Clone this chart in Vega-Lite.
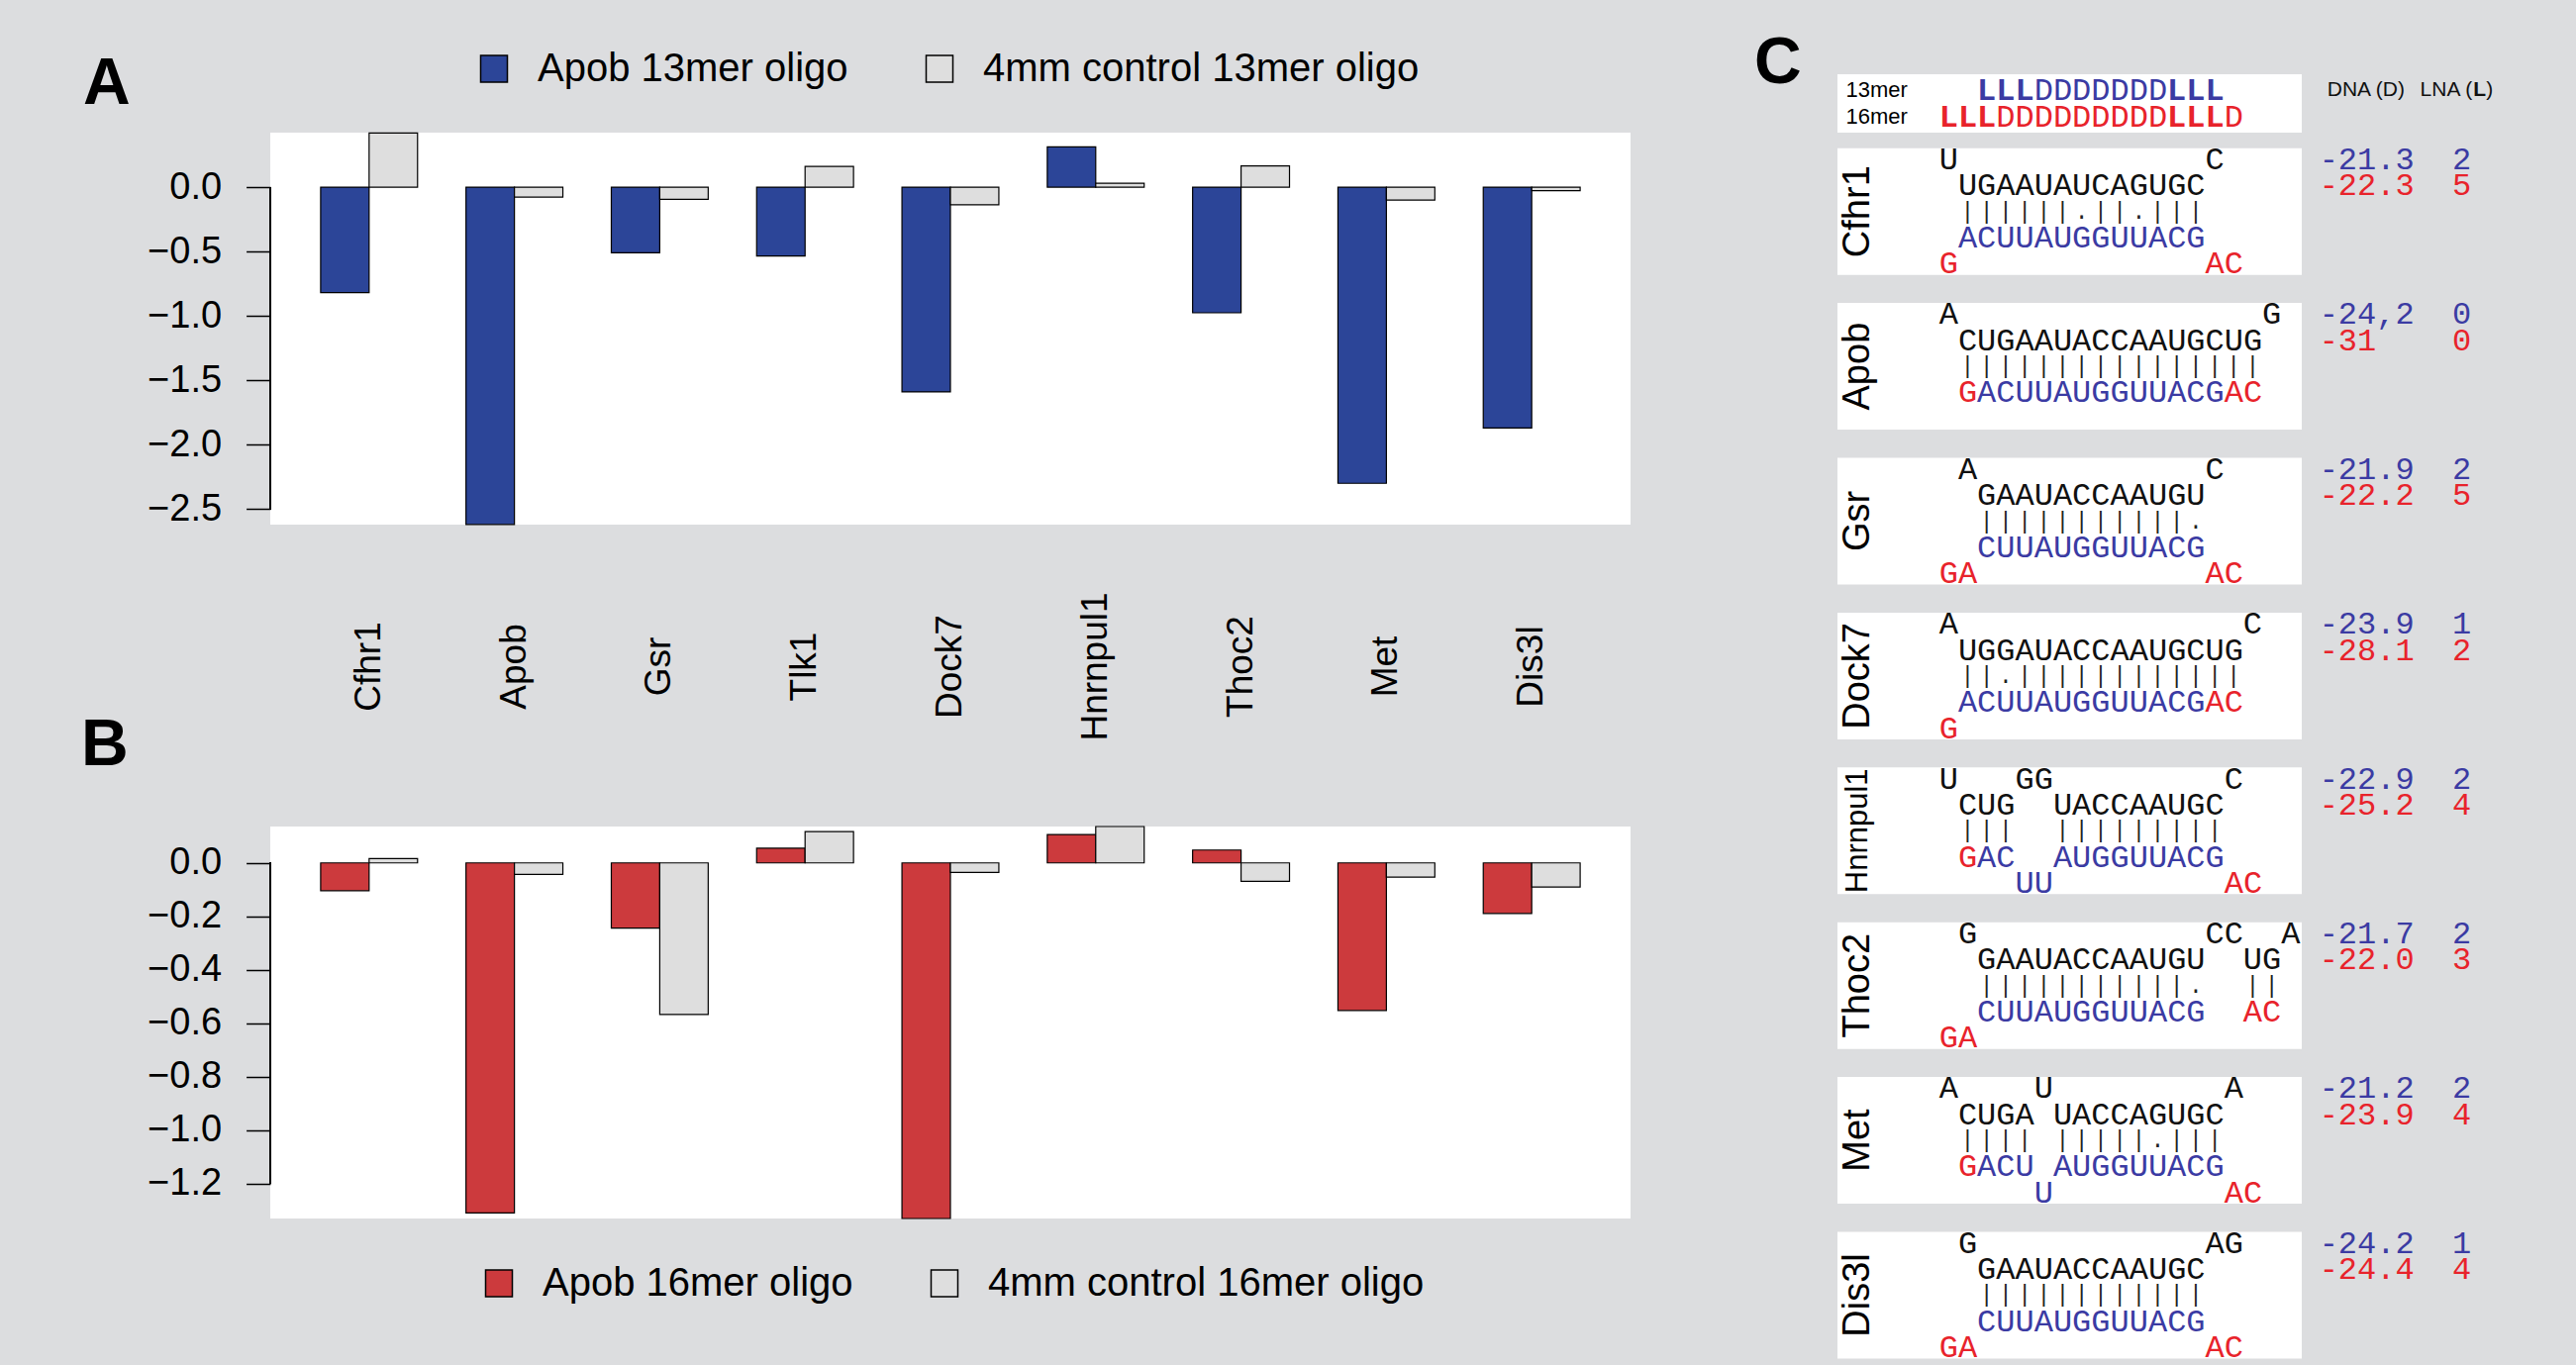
{
  "$schema": "https://vega.github.io/schema/vega-lite/v6.json",
  "autosize": {"type": "none"},
  "padding": {"left": 273, "top": 75, "right": 2329, "bottom": 1304},
  "background": "#dcdddf",
  "config": {
    "view": {"stroke": null},
    "font": "Liberation Sans",
    "axis": {"labelFont": "Liberation Sans", "labelColor": "black", "tickColor": "black", "domainColor": "black", "grid": false},
    "title": {"font": "Liberation Sans", "fontSize": 66, "fontWeight": "bold", "color": "black", "anchor": "start", "frame": "group", "orient": "top", "baseline": "alphabetic"}
  },
  "datasets": {
    "bars13": [
      {"gene": "Cfhr1", "oligo": "Apob 13mer oligo", "value": -0.82},
      {"gene": "Cfhr1", "oligo": "4mm control 13mer oligo", "value": 0.42},
      {"gene": "Apob", "oligo": "Apob 13mer oligo", "value": -2.62},
      {"gene": "Apob", "oligo": "4mm control 13mer oligo", "value": -0.077},
      {"gene": "Gsr", "oligo": "Apob 13mer oligo", "value": -0.51},
      {"gene": "Gsr", "oligo": "4mm control 13mer oligo", "value": -0.095},
      {"gene": "Tlk1", "oligo": "Apob 13mer oligo", "value": -0.535},
      {"gene": "Tlk1", "oligo": "4mm control 13mer oligo", "value": 0.16},
      {"gene": "Dock7", "oligo": "Apob 13mer oligo", "value": -1.59},
      {"gene": "Dock7", "oligo": "4mm control 13mer oligo", "value": -0.137},
      {"gene": "Hnrnpul1", "oligo": "Apob 13mer oligo", "value": 0.313},
      {"gene": "Hnrnpul1", "oligo": "4mm control 13mer oligo", "value": 0.03},
      {"gene": "Thoc2", "oligo": "Apob 13mer oligo", "value": -0.976},
      {"gene": "Thoc2", "oligo": "4mm control 13mer oligo", "value": 0.164},
      {"gene": "Met", "oligo": "Apob 13mer oligo", "value": -2.3},
      {"gene": "Met", "oligo": "4mm control 13mer oligo", "value": -0.1},
      {"gene": "Dis3l", "oligo": "Apob 13mer oligo", "value": -1.87},
      {"gene": "Dis3l", "oligo": "4mm control 13mer oligo", "value": -0.028}
    ],
    "bars16": [
      {"gene": "Cfhr1", "oligo": "Apob 16mer oligo", "value": -0.104},
      {"gene": "Cfhr1", "oligo": "4mm control 16mer oligo", "value": 0.016},
      {"gene": "Apob", "oligo": "Apob 16mer oligo", "value": -1.309},
      {"gene": "Apob", "oligo": "4mm control 16mer oligo", "value": -0.043},
      {"gene": "Gsr", "oligo": "Apob 16mer oligo", "value": -0.244},
      {"gene": "Gsr", "oligo": "4mm control 16mer oligo", "value": -0.567},
      {"gene": "Tlk1", "oligo": "Apob 16mer oligo", "value": 0.055},
      {"gene": "Tlk1", "oligo": "4mm control 16mer oligo", "value": 0.117},
      {"gene": "Dock7", "oligo": "Apob 16mer oligo", "value": -1.33},
      {"gene": "Dock7", "oligo": "4mm control 16mer oligo", "value": -0.036},
      {"gene": "Hnrnpul1", "oligo": "Apob 16mer oligo", "value": 0.106},
      {"gene": "Hnrnpul1", "oligo": "4mm control 16mer oligo", "value": 0.136},
      {"gene": "Thoc2", "oligo": "Apob 16mer oligo", "value": 0.048},
      {"gene": "Thoc2", "oligo": "4mm control 16mer oligo", "value": -0.069},
      {"gene": "Met", "oligo": "Apob 16mer oligo", "value": -0.552},
      {"gene": "Met", "oligo": "4mm control 16mer oligo", "value": -0.053},
      {"gene": "Dis3l", "oligo": "Apob 16mer oligo", "value": -0.189},
      {"gene": "Dis3l", "oligo": "4mm control 16mer oligo", "value": -0.09}
    ],
    "hdr": [
      {"line": "13mer", "col": 2, "seq": "LLL", "chem": "LNA", "strand": "13mer"},
      {"line": "13mer", "col": 5, "seq": "DDDDDDD", "chem": "DNA", "strand": "13mer"},
      {"line": "13mer", "col": 12, "seq": "LLL", "chem": "LNA", "strand": "13mer"},
      {"line": "16mer", "col": 0, "seq": "LLL", "chem": "LNA", "strand": "16mer"},
      {"line": "16mer", "col": 3, "seq": "DDDDDDDDD", "chem": "DNA", "strand": "16mer"},
      {"line": "16mer", "col": 12, "seq": "LLL", "chem": "LNA", "strand": "16mer"},
      {"line": "16mer", "col": 15, "seq": "D", "chem": "DNA", "strand": "16mer"},
      {"line": "13mer", "col": 20.42, "seq": "DNA (D)", "chem": "label", "strand": "target"},
      {"line": "13mer", "col": 25.31, "seq": "LNA (", "chem": "label", "strand": "target"},
      {"line": "13mer", "col": 28.11, "seq": "L", "chem": "labelbold", "strand": "target"},
      {"line": "13mer", "col": 28.78, "seq": ")", "chem": "label", "strand": "target"}
    ],
    "boxes": [
      {"gene": "Cfhr1"}, {"gene": "Apob"}, {"gene": "Gsr"}, {"gene": "Dock7"},
      {"gene": "Hnrnpul1"}, {"gene": "Thoc2"}, {"gene": "Met"}, {"gene": "Dis3l"}
    ],
    "aln": [
      {"gene": "Cfhr1", "line": 0, "col": 0, "seq": "U", "strand": "target"},
      {"gene": "Cfhr1", "line": 0, "col": 14, "seq": "C", "strand": "target"},
      {"gene": "Cfhr1", "line": 1, "col": 1, "seq": "UGAAUAUCAGUGC", "strand": "target"},
      {"gene": "Cfhr1", "line": 3, "col": 1, "seq": "ACUUAUGGUUACG", "strand": "13mer"},
      {"gene": "Cfhr1", "line": 4, "col": 0, "seq": "G", "strand": "16mer"},
      {"gene": "Cfhr1", "line": 4, "col": 14, "seq": "AC", "strand": "16mer"},
      {"gene": "Cfhr1", "line": 0, "col": 20, "seq": "-21.3", "strand": "13mer"},
      {"gene": "Cfhr1", "line": 0, "col": 27, "seq": "2", "strand": "13mer"},
      {"gene": "Cfhr1", "line": 1, "col": 20, "seq": "-22.3", "strand": "16mer"},
      {"gene": "Cfhr1", "line": 1, "col": 27, "seq": "5", "strand": "16mer"},

      {"gene": "Apob", "line": 0, "col": 0, "seq": "A", "strand": "target"},
      {"gene": "Apob", "line": 0, "col": 17, "seq": "G", "strand": "target"},
      {"gene": "Apob", "line": 1, "col": 1, "seq": "CUGAAUACCAAUGCUG", "strand": "target"},
      {"gene": "Apob", "line": 3, "col": 1, "seq": "G", "strand": "16mer"},
      {"gene": "Apob", "line": 3, "col": 2, "seq": "ACUUAUGGUUACG", "strand": "13mer"},
      {"gene": "Apob", "line": 3, "col": 15, "seq": "AC", "strand": "16mer"},
      {"gene": "Apob", "line": 0, "col": 20, "seq": "-24,2", "strand": "13mer"},
      {"gene": "Apob", "line": 0, "col": 27, "seq": "0", "strand": "13mer"},
      {"gene": "Apob", "line": 1, "col": 20, "seq": "-31", "strand": "16mer"},
      {"gene": "Apob", "line": 1, "col": 27, "seq": "0", "strand": "16mer"},

      {"gene": "Gsr", "line": 0, "col": 1, "seq": "A", "strand": "target"},
      {"gene": "Gsr", "line": 0, "col": 14, "seq": "C", "strand": "target"},
      {"gene": "Gsr", "line": 1, "col": 2, "seq": "GAAUACCAAUGU", "strand": "target"},
      {"gene": "Gsr", "line": 3, "col": 2, "seq": "CUUAUGGUUACG", "strand": "13mer"},
      {"gene": "Gsr", "line": 4, "col": 0, "seq": "GA", "strand": "16mer"},
      {"gene": "Gsr", "line": 4, "col": 14, "seq": "AC", "strand": "16mer"},
      {"gene": "Gsr", "line": 0, "col": 20, "seq": "-21.9", "strand": "13mer"},
      {"gene": "Gsr", "line": 0, "col": 27, "seq": "2", "strand": "13mer"},
      {"gene": "Gsr", "line": 1, "col": 20, "seq": "-22.2", "strand": "16mer"},
      {"gene": "Gsr", "line": 1, "col": 27, "seq": "5", "strand": "16mer"},

      {"gene": "Dock7", "line": 0, "col": 0, "seq": "A", "strand": "target"},
      {"gene": "Dock7", "line": 0, "col": 16, "seq": "C", "strand": "target"},
      {"gene": "Dock7", "line": 1, "col": 1, "seq": "UGGAUACCAAUGCUG", "strand": "target"},
      {"gene": "Dock7", "line": 3, "col": 1, "seq": "ACUUAUGGUUACG", "strand": "13mer"},
      {"gene": "Dock7", "line": 3, "col": 14, "seq": "AC", "strand": "16mer"},
      {"gene": "Dock7", "line": 4, "col": 0, "seq": "G", "strand": "16mer"},
      {"gene": "Dock7", "line": 0, "col": 20, "seq": "-23.9", "strand": "13mer"},
      {"gene": "Dock7", "line": 0, "col": 27, "seq": "1", "strand": "13mer"},
      {"gene": "Dock7", "line": 1, "col": 20, "seq": "-28.1", "strand": "16mer"},
      {"gene": "Dock7", "line": 1, "col": 27, "seq": "2", "strand": "16mer"},

      {"gene": "Hnrnpul1", "line": 0, "col": 0, "seq": "U", "strand": "target"},
      {"gene": "Hnrnpul1", "line": 0, "col": 4, "seq": "GG", "strand": "target"},
      {"gene": "Hnrnpul1", "line": 0, "col": 15, "seq": "C", "strand": "target"},
      {"gene": "Hnrnpul1", "line": 1, "col": 1, "seq": "CUG", "strand": "target"},
      {"gene": "Hnrnpul1", "line": 1, "col": 6, "seq": "UACCAAUGC", "strand": "target"},
      {"gene": "Hnrnpul1", "line": 3, "col": 1, "seq": "G", "strand": "16mer"},
      {"gene": "Hnrnpul1", "line": 3, "col": 2, "seq": "AC", "strand": "13mer"},
      {"gene": "Hnrnpul1", "line": 3, "col": 6, "seq": "AUGGUUACG", "strand": "13mer"},
      {"gene": "Hnrnpul1", "line": 4, "col": 4, "seq": "UU", "strand": "13mer"},
      {"gene": "Hnrnpul1", "line": 4, "col": 15, "seq": "AC", "strand": "16mer"},
      {"gene": "Hnrnpul1", "line": 0, "col": 20, "seq": "-22.9", "strand": "13mer"},
      {"gene": "Hnrnpul1", "line": 0, "col": 27, "seq": "2", "strand": "13mer"},
      {"gene": "Hnrnpul1", "line": 1, "col": 20, "seq": "-25.2", "strand": "16mer"},
      {"gene": "Hnrnpul1", "line": 1, "col": 27, "seq": "4", "strand": "16mer"},

      {"gene": "Thoc2", "line": 0, "col": 1, "seq": "G", "strand": "target"},
      {"gene": "Thoc2", "line": 0, "col": 14, "seq": "CC", "strand": "target"},
      {"gene": "Thoc2", "line": 0, "col": 18, "seq": "A", "strand": "target"},
      {"gene": "Thoc2", "line": 1, "col": 2, "seq": "GAAUACCAAUGU", "strand": "target"},
      {"gene": "Thoc2", "line": 1, "col": 16, "seq": "UG", "strand": "target"},
      {"gene": "Thoc2", "line": 3, "col": 2, "seq": "CUUAUGGUUACG", "strand": "13mer"},
      {"gene": "Thoc2", "line": 3, "col": 16, "seq": "AC", "strand": "16mer"},
      {"gene": "Thoc2", "line": 4, "col": 0, "seq": "GA", "strand": "16mer"},
      {"gene": "Thoc2", "line": 0, "col": 20, "seq": "-21.7", "strand": "13mer"},
      {"gene": "Thoc2", "line": 0, "col": 27, "seq": "2", "strand": "13mer"},
      {"gene": "Thoc2", "line": 1, "col": 20, "seq": "-22.0", "strand": "16mer"},
      {"gene": "Thoc2", "line": 1, "col": 27, "seq": "3", "strand": "16mer"},

      {"gene": "Met", "line": 0, "col": 0, "seq": "A", "strand": "target"},
      {"gene": "Met", "line": 0, "col": 5, "seq": "U", "strand": "target"},
      {"gene": "Met", "line": 0, "col": 15, "seq": "A", "strand": "target"},
      {"gene": "Met", "line": 1, "col": 1, "seq": "CUGA", "strand": "target"},
      {"gene": "Met", "line": 1, "col": 6, "seq": "UACCAGUGC", "strand": "target"},
      {"gene": "Met", "line": 3, "col": 1, "seq": "G", "strand": "16mer"},
      {"gene": "Met", "line": 3, "col": 2, "seq": "ACU", "strand": "13mer"},
      {"gene": "Met", "line": 3, "col": 6, "seq": "AUGGUUACG", "strand": "13mer"},
      {"gene": "Met", "line": 4, "col": 5, "seq": "U", "strand": "13mer"},
      {"gene": "Met", "line": 4, "col": 15, "seq": "AC", "strand": "16mer"},
      {"gene": "Met", "line": 0, "col": 20, "seq": "-21.2", "strand": "13mer"},
      {"gene": "Met", "line": 0, "col": 27, "seq": "2", "strand": "13mer"},
      {"gene": "Met", "line": 1, "col": 20, "seq": "-23.9", "strand": "16mer"},
      {"gene": "Met", "line": 1, "col": 27, "seq": "4", "strand": "16mer"},

      {"gene": "Dis3l", "line": 0, "col": 1, "seq": "G", "strand": "target"},
      {"gene": "Dis3l", "line": 0, "col": 14, "seq": "AG", "strand": "target"},
      {"gene": "Dis3l", "line": 1, "col": 2, "seq": "GAAUACCAAUGC", "strand": "target"},
      {"gene": "Dis3l", "line": 3, "col": 2, "seq": "CUUAUGGUUACG", "strand": "13mer"},
      {"gene": "Dis3l", "line": 4, "col": 0, "seq": "GA", "strand": "16mer"},
      {"gene": "Dis3l", "line": 4, "col": 14, "seq": "AC", "strand": "16mer"},
      {"gene": "Dis3l", "line": 0, "col": 20, "seq": "-24.2", "strand": "13mer"},
      {"gene": "Dis3l", "line": 0, "col": 27, "seq": "1", "strand": "13mer"},
      {"gene": "Dis3l", "line": 1, "col": 20, "seq": "-24.4", "strand": "16mer"},
      {"gene": "Dis3l", "line": 1, "col": 27, "seq": "4", "strand": "16mer"}
    ],
    "pairs": [
      {"gene": "Cfhr1", "line": 2, "col": 1, "seq": "|"}, {"gene": "Cfhr1", "line": 2, "col": 2, "seq": "|"}, {"gene": "Cfhr1", "line": 2, "col": 3, "seq": "|"},
      {"gene": "Cfhr1", "line": 2, "col": 4, "seq": "|"}, {"gene": "Cfhr1", "line": 2, "col": 5, "seq": "|"}, {"gene": "Cfhr1", "line": 2, "col": 6, "seq": "|"},
      {"gene": "Cfhr1", "line": 2, "col": 7, "seq": "."}, {"gene": "Cfhr1", "line": 2, "col": 8, "seq": "|"}, {"gene": "Cfhr1", "line": 2, "col": 9, "seq": "|"},
      {"gene": "Cfhr1", "line": 2, "col": 10, "seq": "."}, {"gene": "Cfhr1", "line": 2, "col": 11, "seq": "|"}, {"gene": "Cfhr1", "line": 2, "col": 12, "seq": "|"},
      {"gene": "Cfhr1", "line": 2, "col": 13, "seq": "|"},

      {"gene": "Apob", "line": 2, "col": 1, "seq": "|"}, {"gene": "Apob", "line": 2, "col": 2, "seq": "|"}, {"gene": "Apob", "line": 2, "col": 3, "seq": "|"},
      {"gene": "Apob", "line": 2, "col": 4, "seq": "|"}, {"gene": "Apob", "line": 2, "col": 5, "seq": "|"}, {"gene": "Apob", "line": 2, "col": 6, "seq": "|"},
      {"gene": "Apob", "line": 2, "col": 7, "seq": "|"}, {"gene": "Apob", "line": 2, "col": 8, "seq": "|"}, {"gene": "Apob", "line": 2, "col": 9, "seq": "|"},
      {"gene": "Apob", "line": 2, "col": 10, "seq": "|"}, {"gene": "Apob", "line": 2, "col": 11, "seq": "|"}, {"gene": "Apob", "line": 2, "col": 12, "seq": "|"},
      {"gene": "Apob", "line": 2, "col": 13, "seq": "|"}, {"gene": "Apob", "line": 2, "col": 14, "seq": "|"}, {"gene": "Apob", "line": 2, "col": 15, "seq": "|"},
      {"gene": "Apob", "line": 2, "col": 16, "seq": "|"},

      {"gene": "Gsr", "line": 2, "col": 2, "seq": "|"}, {"gene": "Gsr", "line": 2, "col": 3, "seq": "|"}, {"gene": "Gsr", "line": 2, "col": 4, "seq": "|"},
      {"gene": "Gsr", "line": 2, "col": 5, "seq": "|"}, {"gene": "Gsr", "line": 2, "col": 6, "seq": "|"}, {"gene": "Gsr", "line": 2, "col": 7, "seq": "|"},
      {"gene": "Gsr", "line": 2, "col": 8, "seq": "|"}, {"gene": "Gsr", "line": 2, "col": 9, "seq": "|"}, {"gene": "Gsr", "line": 2, "col": 10, "seq": "|"},
      {"gene": "Gsr", "line": 2, "col": 11, "seq": "|"}, {"gene": "Gsr", "line": 2, "col": 12, "seq": "|"}, {"gene": "Gsr", "line": 2, "col": 13, "seq": "."},

      {"gene": "Dock7", "line": 2, "col": 1, "seq": "|"}, {"gene": "Dock7", "line": 2, "col": 2, "seq": "|"}, {"gene": "Dock7", "line": 2, "col": 3, "seq": "."},
      {"gene": "Dock7", "line": 2, "col": 4, "seq": "|"}, {"gene": "Dock7", "line": 2, "col": 5, "seq": "|"}, {"gene": "Dock7", "line": 2, "col": 6, "seq": "|"},
      {"gene": "Dock7", "line": 2, "col": 7, "seq": "|"}, {"gene": "Dock7", "line": 2, "col": 8, "seq": "|"}, {"gene": "Dock7", "line": 2, "col": 9, "seq": "|"},
      {"gene": "Dock7", "line": 2, "col": 10, "seq": "|"}, {"gene": "Dock7", "line": 2, "col": 11, "seq": "|"}, {"gene": "Dock7", "line": 2, "col": 12, "seq": "|"},
      {"gene": "Dock7", "line": 2, "col": 13, "seq": "|"}, {"gene": "Dock7", "line": 2, "col": 14, "seq": "|"}, {"gene": "Dock7", "line": 2, "col": 15, "seq": "|"},

      {"gene": "Hnrnpul1", "line": 2, "col": 1, "seq": "|"}, {"gene": "Hnrnpul1", "line": 2, "col": 2, "seq": "|"}, {"gene": "Hnrnpul1", "line": 2, "col": 3, "seq": "|"},
      {"gene": "Hnrnpul1", "line": 2, "col": 6, "seq": "|"}, {"gene": "Hnrnpul1", "line": 2, "col": 7, "seq": "|"}, {"gene": "Hnrnpul1", "line": 2, "col": 8, "seq": "|"},
      {"gene": "Hnrnpul1", "line": 2, "col": 9, "seq": "|"}, {"gene": "Hnrnpul1", "line": 2, "col": 10, "seq": "|"}, {"gene": "Hnrnpul1", "line": 2, "col": 11, "seq": "|"},
      {"gene": "Hnrnpul1", "line": 2, "col": 12, "seq": "|"}, {"gene": "Hnrnpul1", "line": 2, "col": 13, "seq": "|"}, {"gene": "Hnrnpul1", "line": 2, "col": 14, "seq": "|"},

      {"gene": "Thoc2", "line": 2, "col": 2, "seq": "|"}, {"gene": "Thoc2", "line": 2, "col": 3, "seq": "|"}, {"gene": "Thoc2", "line": 2, "col": 4, "seq": "|"},
      {"gene": "Thoc2", "line": 2, "col": 5, "seq": "|"}, {"gene": "Thoc2", "line": 2, "col": 6, "seq": "|"}, {"gene": "Thoc2", "line": 2, "col": 7, "seq": "|"},
      {"gene": "Thoc2", "line": 2, "col": 8, "seq": "|"}, {"gene": "Thoc2", "line": 2, "col": 9, "seq": "|"}, {"gene": "Thoc2", "line": 2, "col": 10, "seq": "|"},
      {"gene": "Thoc2", "line": 2, "col": 11, "seq": "|"}, {"gene": "Thoc2", "line": 2, "col": 12, "seq": "|"}, {"gene": "Thoc2", "line": 2, "col": 13, "seq": "."},
      {"gene": "Thoc2", "line": 2, "col": 16, "seq": "|"}, {"gene": "Thoc2", "line": 2, "col": 17, "seq": "|"},

      {"gene": "Met", "line": 2, "col": 1, "seq": "|"}, {"gene": "Met", "line": 2, "col": 2, "seq": "|"}, {"gene": "Met", "line": 2, "col": 3, "seq": "|"},
      {"gene": "Met", "line": 2, "col": 4, "seq": "|"}, {"gene": "Met", "line": 2, "col": 6, "seq": "|"}, {"gene": "Met", "line": 2, "col": 7, "seq": "|"},
      {"gene": "Met", "line": 2, "col": 8, "seq": "|"}, {"gene": "Met", "line": 2, "col": 9, "seq": "|"}, {"gene": "Met", "line": 2, "col": 10, "seq": "|"},
      {"gene": "Met", "line": 2, "col": 11, "seq": "."}, {"gene": "Met", "line": 2, "col": 12, "seq": "|"}, {"gene": "Met", "line": 2, "col": 13, "seq": "|"},
      {"gene": "Met", "line": 2, "col": 14, "seq": "|"},

      {"gene": "Dis3l", "line": 2, "col": 2, "seq": "|"}, {"gene": "Dis3l", "line": 2, "col": 3, "seq": "|"}, {"gene": "Dis3l", "line": 2, "col": 4, "seq": "|"},
      {"gene": "Dis3l", "line": 2, "col": 5, "seq": "|"}, {"gene": "Dis3l", "line": 2, "col": 6, "seq": "|"}, {"gene": "Dis3l", "line": 2, "col": 7, "seq": "|"},
      {"gene": "Dis3l", "line": 2, "col": 8, "seq": "|"}, {"gene": "Dis3l", "line": 2, "col": 9, "seq": "|"}, {"gene": "Dis3l", "line": 2, "col": 10, "seq": "|"},
      {"gene": "Dis3l", "line": 2, "col": 11, "seq": "|"}, {"gene": "Dis3l", "line": 2, "col": 12, "seq": "|"}, {"gene": "Dis3l", "line": 2, "col": 13, "seq": "|"}
    ]
  },
  "bounds": "flush",
  "columns": 2,
  "align": {"row": "none", "column": "each"},
  "spacing": {"row": 0, "column": 209},
  "resolve": {
    "scale": {"color": "independent", "xOffset": "independent", "yOffset": "independent"},
    "legend": {"color": "independent"}
  },
  "concat": [
    {
      "width": 1374, "height": 59,
      "title": {"text": "A", "offset": -44, "dx": -189},
      "data": {"values": []},
      "mark": "text",
      "encoding": {}
    },
    {
      "width": 469, "height": 59,
      "view": {"fill": "white", "stroke": null},
      "title": {"text": "C", "offset": -23, "dx": -84},
      "data": {"name": "hdr"},
      "encoding": {
        "x": {"field": "col", "type": "quantitative", "scale": {"domain": [-5.35, 19.08], "nice": false, "zero": false}, "axis": null},
        "y": {"field": "line", "type": "nominal", "scale": {"type": "band", "domain": ["13mer", "16mer"], "paddingInner": 0, "paddingOuter": 0.069},
              "axis": {"orient": "left", "title": null, "ticks": false, "domain": false, "labelAlign": "left", "labelBaseline": "middle", "labelPadding": -8, "labelFontSize": 22, "labelLimit": 0}},
        "text": {"field": "seq"},
        "color": {"field": "strand", "type": "nominal", "scale": {"domain": ["target", "13mer", "16mer"], "range": ["#111111", "#3b3ba3", "#e8232b"]}, "legend": null}
      },
      "layer": [
        {"transform": [{"filter": "datum.chem === 'LNA'"}], "mark": {"type": "text", "font": "Liberation Mono", "fontSize": 32, "fontWeight": "bold", "align": "left", "baseline": "middle"}},
        {"transform": [{"filter": "datum.chem === 'DNA'"}], "mark": {"type": "text", "font": "Liberation Mono", "fontSize": 32, "fontWeight": "normal", "align": "left", "baseline": "middle"}},
        {"transform": [{"filter": "datum.chem === 'label'"}], "mark": {"type": "text", "font": "Liberation Sans", "fontSize": 21, "fontWeight": "normal", "align": "left", "baseline": "middle"}},
        {"transform": [{"filter": "datum.chem === 'labelbold'"}], "mark": {"type": "text", "font": "Liberation Sans", "fontSize": 21, "fontWeight": "bold", "align": "left", "baseline": "middle"}}
      ]
    },
    {
      "width": 1374, "height": 396,
      "view": {"fill": "white", "stroke": null},
      "data": {"name": "bars13"},
      "resolve": {"scale": {"xOffset": "independent"}},
      "layer": [
        {
          "mark": {"type": "bar", "stroke": "black", "strokeWidth": 1.2},
          "encoding": {
            "x": {"field": "gene", "type": "nominal",
                  "scale": {"domain": ["Cfhr1", "Apob", "Gsr", "Tlk1", "Dock7", "Hnrnpul1", "Thoc2", "Met", "Dis3l"], "paddingInner": 0.3333, "paddingOuter": 0.3467},
                  "axis": {"title": null, "labelAngle": 270, "labelAlign": "center", "labelBaseline": "middle", "labelPadding": 143, "labelFontSize": 37, "ticks": false, "domain": false, "labelOverlap": false, "labelLimit": 0}},
            "xOffset": {"field": "oligo", "type": "nominal", "scale": {"domain": ["Apob 13mer oligo", "4mm control 13mer oligo"], "paddingInner": 0, "paddingOuter": 0}},
            "y": {"field": "value", "type": "quantitative",
                  "scale": {"domain": [-2.621, 0.423], "nice": false},
                  "axis": {"title": null, "values": [0, -0.5, -1, -1.5, -2, -2.5], "format": ".1f", "labelFontSize": 38, "tickSize": 24.4, "labelPadding": 25, "tickWidth": 1.5, "domain": false, "labelFlush": false, "labelOverlap": false}},
            "color": {"field": "oligo", "type": "nominal",
                      "scale": {"domain": ["Apob 13mer oligo", "4mm control 13mer oligo"], "range": ["#2c4598", "#dedede"]},
                      "legend": {"orient": "none", "legendX": 206, "legendY": -84.5, "direction": "horizontal", "title": null, "symbolType": "square", "symbolSize": 729, "symbolStrokeColor": "black", "symbolStrokeWidth": 1.5, "symbolOpacity": 1, "labelFontSize": 40, "labelFont": "Liberation Sans", "labelColor": "black", "labelOffset": 24, "columnPadding": 72, "padding": 0, "labelLimit": 0}}
          }
        },
        {
          "mark": {"type": "rule", "color": "black", "strokeWidth": 1.5},
          "encoding": {
            "x": {"datum": "Cfhr1", "bandPosition": -0.52},
            "y": {"datum": 0},
            "y2": {"datum": -2.5}
          }
        }
      ]
    },
    {
      "width": 469, "height": 396,
      "resolve": {"scale": {"yOffset": "independent"}},
      "encoding": {
        "y": {"field": "gene", "type": "nominal",
              "scale": {"type": "band", "domain": ["Cfhr1", "Apob", "Gsr", "Dock7", "Hnrnpul1", "Thoc2", "Met", "Dis3l"], "range": [0, 1254.2], "paddingInner": 0.1816, "paddingOuter": 0.1004},
              "axis": {"orient": "left", "title": null, "ticks": false, "domain": false, "labelAngle": 270, "labelAlign": "center", "labelBaseline": "middle", "labelPadding": -20, "labelLimit": 0,
                       "labelFontSize": {"condition": {"test": "datum.value === 'Hnrnpul1'", "value": 31}, "value": 38}}}
      },
      "layer": [
        {
          "data": {"name": "boxes"},
          "mark": {"type": "rect", "fill": "white"}
        },
        {
          "data": {"name": "aln"},
          "mark": {"type": "text", "font": "Liberation Mono", "fontSize": 32, "align": "left", "baseline": "middle"},
          "encoding": {
            "x": {"field": "col", "type": "quantitative", "scale": {"domain": [-5.35, 19.08], "nice": false, "zero": false}, "axis": null},
            "yOffset": {"field": "line", "type": "ordinal", "scale": {"domain": [0, 1, 2, 3, 4], "paddingInner": 0, "paddingOuter": 0.429}},
            "text": {"field": "seq"},
            "color": {"field": "strand", "type": "nominal", "scale": {"domain": ["target", "13mer", "16mer"], "range": ["#111111", "#3b3ba3", "#e8232b"]}, "legend": null}
          }
        },
        {
          "data": {"name": "pairs"},
          "mark": {"type": "text", "font": "Liberation Mono", "fontSize": 23, "align": "center", "baseline": "middle", "dx": 9.6, "color": "#222222"},
          "encoding": {
            "x": {"field": "col", "type": "quantitative", "scale": {"domain": [-5.35, 19.08], "nice": false, "zero": false}, "axis": null},
            "yOffset": {"field": "line", "type": "ordinal", "scale": {"domain": [0, 1, 2, 3, 4], "paddingInner": 0, "paddingOuter": 0.429}},
            "text": {"field": "seq"}
          }
        }
      ]
    },
    {
      "width": 1374, "height": 305,
      "title": {"text": "B", "offset": -257, "dx": -191},
      "data": {"values": []},
      "mark": "text",
      "encoding": {}
    },
    {
      "width": 1, "height": 1,
      "data": {"values": []},
      "mark": "text",
      "encoding": {}
    },
    {
      "width": 1374, "height": 396,
      "view": {"fill": "white", "stroke": null},
      "data": {"name": "bars16"},
      "resolve": {"scale": {"xOffset": "independent"}},
      "layer": [
        {
          "mark": {"type": "bar", "stroke": "black", "strokeWidth": 1.2},
          "encoding": {
            "x": {"field": "gene", "type": "nominal",
                  "scale": {"domain": ["Cfhr1", "Apob", "Gsr", "Tlk1", "Dock7", "Hnrnpul1", "Thoc2", "Met", "Dis3l"], "paddingInner": 0.3333, "paddingOuter": 0.3467},
                  "axis": null},
            "xOffset": {"field": "oligo", "type": "nominal", "scale": {"domain": ["Apob 16mer oligo", "4mm control 16mer oligo"], "paddingInner": 0, "paddingOuter": 0}},
            "y": {"field": "value", "type": "quantitative",
                  "scale": {"domain": [-1.33, 0.136], "nice": false},
                  "axis": {"title": null, "values": [0, -0.2, -0.4, -0.6, -0.8, -1, -1.2], "format": ".1f", "labelFontSize": 38, "tickSize": 24.4, "labelPadding": 25, "tickWidth": 1.5, "domain": false, "labelFlush": false, "labelOverlap": false}},
            "color": {"field": "oligo", "type": "nominal",
                      "scale": {"domain": ["Apob 16mer oligo", "4mm control 16mer oligo"], "range": ["#cc3a3d", "#dedede"]},
                      "legend": {"orient": "none", "legendX": 211, "legendY": 441.5, "direction": "horizontal", "title": null, "symbolType": "square", "symbolSize": 729, "symbolStrokeColor": "black", "symbolStrokeWidth": 1.5, "symbolOpacity": 1, "labelFontSize": 40, "labelFont": "Liberation Sans", "labelColor": "black", "labelOffset": 24, "columnPadding": 72, "padding": 0, "labelLimit": 0}}
          }
        },
        {
          "mark": {"type": "rule", "color": "black", "strokeWidth": 1.5},
          "encoding": {
            "x": {"datum": "Cfhr1", "bandPosition": -0.52},
            "y": {"datum": 0},
            "y2": {"datum": -1.2}
          }
        }
      ]
    }
  ]
}
